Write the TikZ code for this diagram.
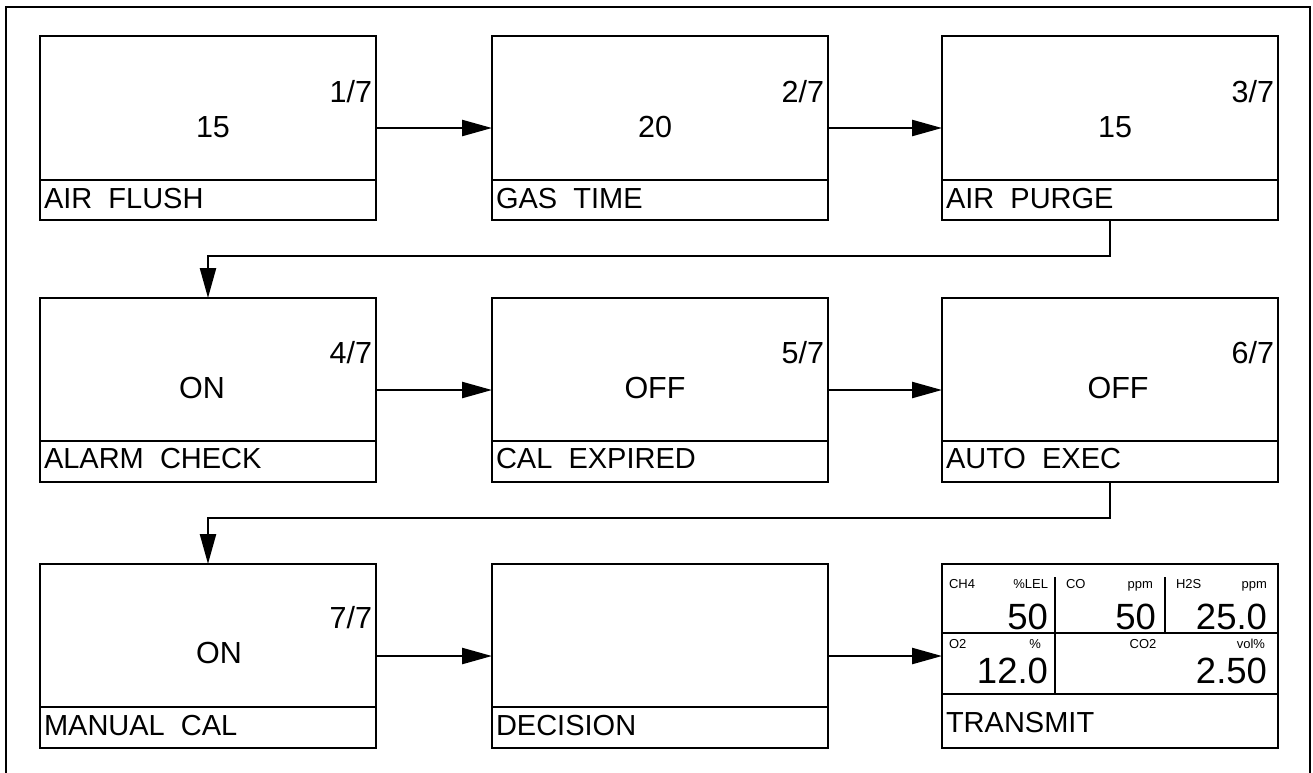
\documentclass[tikz,border=0pt]{standalone}
\usepackage{fontspec}
\setmainfont{Liberation Sans}
\usetikzlibrary{arrows.meta}
\begin{document}
\begin{tikzpicture}[x=1pt,y=-1pt,
  panel/.style={draw, line width=2.6pt, rectangle, minimum width=336pt, minimum height=184pt, outer sep=0pt, inner sep=0pt, anchor=north west},
  divline/.style={line width=2.6pt},
  arr/.style={line width=2.4pt, -{Triangle[length=30pt,width=16pt]}},
  txt/.style={inner sep=0pt, outer sep=0pt},
  val/.style={txt, anchor=base, font=\fontsize{30.5}{36}\selectfont},
  frac/.style={txt, anchor=base east, font=\fontsize{30.5}{36}\selectfont},
  lab/.style={txt, anchor=base west, font=\fontsize{29}{34}\selectfont},
  small/.style={txt, font=\fontsize{13}{15}\selectfont},
  big/.style={txt, anchor=base east, font=\fontsize{36.5}{44}\selectfont}]
\useasboundingbox (0,0) rectangle (1313,772);
% outer frame
\draw[line width=2pt] (6,7) rectangle (1310,790);
% panels
\node[panel] (b1) at (40,36) {};
\node[panel] (b2) at (492,36) {};
\node[panel] (b3) at (942,36) {};
\node[panel] (b4) at (40,298) {};
\node[panel] (b5) at (492,298) {};
\node[panel] (b6) at (942,298) {};
\node[panel] (b7) at (40,564) {};
\node[panel] (b8) at (492,564) {};
\node[panel] (b9) at (942,564) {};
% dividers
\draw[divline] (b1.west |- 0,180) -- (b1.east |- 0,180);
\draw[divline] (b2.west |- 0,180) -- (b2.east |- 0,180);
\draw[divline] (b3.west |- 0,180) -- (b3.east |- 0,180);
\draw[divline] (b4.west |- 0,441) -- (b4.east |- 0,441);
\draw[divline] (b5.west |- 0,441) -- (b5.east |- 0,441);
\draw[divline] (b6.west |- 0,441) -- (b6.east |- 0,441);
\draw[divline] (b7.west |- 0,707) -- (b7.east |- 0,707);
\draw[divline] (b8.west |- 0,707) -- (b8.east |- 0,707);
% row 1 texts
\node[val] (v1) at (213,137) {15};
\node[frac] (f1) at (372,102) {1/7};
\node[lab] (l1) at (44,208) {AIR\ \ FLUSH};
\node[val] (v2) at (655,137) {20};
\node[frac] (f2) at (824,102) {2/7};
\node[lab] (l2) at (496,208) {GAS\ \ TIME};
\node[val] (v3) at (1115,137) {15};
\node[frac] (f3) at (1274,102) {3/7};
\node[lab] (l3) at (946,208) {AIR\ \ PURGE};
% row 2 texts
\node[val] (v4) at (202,398) {ON};
\node[frac] (f4) at (372,363) {4/7};
\node[lab] (l4) at (44,468) {ALARM\ \ CHECK};
\node[val] (v5) at (655,398) {OFF};
\node[frac] (f5) at (824,363) {5/7};
\node[lab] (l5) at (496,468) {CAL\ \ EXPIRED};
\node[val] (v6) at (1118,398) {OFF};
\node[frac] (f6) at (1274,363) {6/7};
\node[lab] (l6) at (946,468) {AUTO\ \ EXEC};
% row 3 texts
\node[val] (v7) at (219,663) {ON};
\node[frac] (f7) at (372,628) {7/7};
\node[lab] (l7) at (44,735) {MANUAL\ \ CAL};
\node[lab] (l8) at (496,735) {DECISION};
% transmit display
\draw[divline] (b9.west |- 0,633) -- (b9.east |- 0,633);
\draw[divline] (b9.west |- 0,694) -- (b9.east |- 0,694);
\draw[divline] (1055,577) -- (1055,694);
\draw[divline] (1165,577) -- (1165,633);
\node[small, anchor=base west] (t1) at (949,588) {CH4};
\node[small, anchor=base east] (t2) at (1048,588) {\%LEL};
\node[big] (t3) at (1048,629) {50};
\node[small, anchor=base west] (t4) at (1066,588) {CO};
\node[small, anchor=base east] (t5) at (1153,588) {ppm};
\node[big] (t6) at (1156,629) {50};
\node[small, anchor=base west] (t7) at (1176,588) {H2S};
\node[small, anchor=base east] (t8) at (1267,588) {ppm};
\node[big] (t9) at (1267,629) {25.0};
\node[small, anchor=base west] (t10) at (949,648) {O2};
\node[small, anchor=base east] (t11) at (1041,648) {\%};
\node[small, anchor=base] (t12) at (1143,648) {CO2};
\node[small, anchor=base east] (t13) at (1265,648) {vol\%};
\node[big] (t14) at (1048,683) {12.0};
\node[big] (t15) at (1267,683) {2.50};
\node[lab] (l9) at (946,732) {TRANSMIT};
% connectors
\draw[arr] (b1) -- (b2);
\draw[arr] (b2) -- (b3);
\draw[arr] (b3.south) -- ++(0,36) -| (b4.north);
\draw[arr] (b4) -- (b5);
\draw[arr] (b5) -- (b6);
\draw[arr] (b6.south) -- ++(0,36) -| (b7.north);
\draw[arr] (b7) -- (b8);
\draw[arr] (b8) -- (b9);
\end{tikzpicture}
\end{document}
